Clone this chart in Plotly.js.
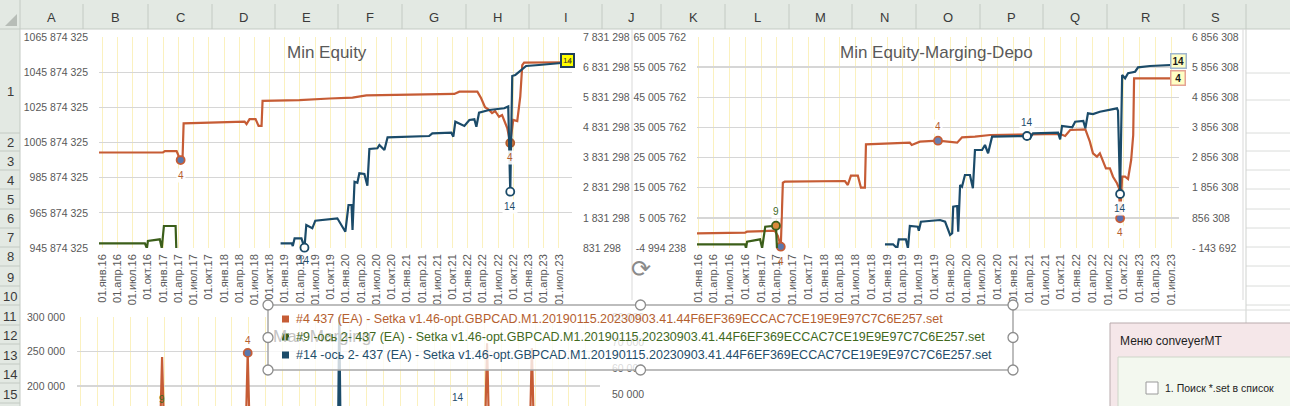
<!DOCTYPE html>
<html><head><meta charset="utf-8">
<script src="https://cdn.plot.ly/plotly-3.0.1.min.js"></script>
<style>html,body{margin:0;padding:0;background:#fff;overflow:hidden}#chart{width:1290px;height:406px}</style>
</head><body><div id="chart"></div>
<script>
// ================= DATA =================
const tickDates = ['2016-01-01','2016-04-01','2016-07-01','2016-10-01','2017-01-01','2017-04-01','2017-07-01','2017-10-01',
  '2018-01-01','2018-04-01','2018-07-01','2018-10-01','2019-01-01','2019-04-01','2019-07-01','2019-10-01',
  '2020-01-01','2020-04-01','2020-07-01','2020-10-01','2021-01-01','2021-04-01','2021-07-01','2021-10-01',
  '2022-01-01','2022-04-01','2022-07-01','2022-10-01','2023-01-01','2023-04-01','2023-07-01'];
const tickLabels = ['01.янв.16','01.апр.16','01.июл.16','01.окт.16','01.янв.17','01.апр.17','01.июл.17','01.окт.17',
  '01.янв.18','01.апр.18','01.июл.18','01.окт.18','01.янв.19','01.апр.19','01.июл.19','01.окт.19',
  '01.янв.20','01.апр.20','01.июл.20','01.окт.20','01.янв.21','01.апр.21','01.июл.21','01.окт.21',
  '01.янв.22','01.апр.22','01.июл.22','01.окт.22','01.янв.23','01.апр.23','01.июл.23'];

const c1LeftTicks = [945874325, 965874325, 985874325, 1005874325, 1025874325, 1045874325, 1065874325];
const c1LeftLabels = ['945 874 325','965 874 325','985 874 325','1005 874 325','1025 874 325','1045 874 325','1065 874 325'];
const c1RightTicks = [831298, 1831298, 2831298, 3831298, 4831298, 5831298, 6831298, 7831298];
const c1RightLabels = ['831 298','1 831 298','2 831 298','3 831 298','4 831 298','5 831 298','6 831 298','7 831 298'];
const c2LeftTicks = [-4994238, 5005762, 15005762, 25005762, 35005762, 45005762, 55005762, 65005762];
const c2LeftLabels = ['-4 994 238','5 005 762','15 005 762','25 005 762','35 005 762','45 005 762','55 005 762','65 005 762'];
const c2RightTicks = [-143692, 856308, 1856308, 2856308, 3856308, 4856308, 5856308, 6856308];
const c2RightLabels = ['- 143 692','856 308','1 856 308','2 856 308','3 856 308','4 856 308','5 856 308','6 856 308'];
const c3LeftTicks = [200000, 250000, 300000];
const c3LeftLabels = ['200 000','250 000','300 000'];
const c3RightTicks = [50000, 60000, 70000, 80000];
const c3RightLabels = ['50 000','60 000','70 000','80 000'];

const seriesNames = [
  '#4 437 (EA) - Setka v1.46-opt.GBPCAD.M1.20190115.20230903.41.44F6EF369ECCAC7CE19E9E97C7C6E257.set',
  '#9 -ось 2- 437 (EA) - Setka v1.46-opt.GBPCAD.M1.20190115.20230903.41.44F6EF369ECCAC7CE19E9E97C7C6E257.set',
  '#14 -ось 2- 437 (EA) - Setka v1.46-opt.GBPCAD.M1.20190115.20230903.41.44F6EF369ECCAC7CE19E9E97C7C6E257.set'];
const seriesShort = ['4', '9', '14'];
const chartTitles = ['Min Equity', 'Min Equity-Marging-Depo', 'Max Marging'];

// Chart 1: Min Equity
const c1Dates4 = ['2015-12-14','2016-12-31','2017-01-12','2017-03-23','2017-04-04','2017-04-16','2017-04-28','2017-05-04',
  '2018-05-04','2018-05-16','2018-06-03','2018-07-09','2018-07-27','2018-08-14','2018-08-20','2019-03-29','2019-09-25',
  '2020-02-10','2020-05-03','2021-10-12','2021-11-11','2022-02-27','2022-03-21','2022-04-14','2022-05-08','2022-05-26',
  '2022-06-13','2022-07-07','2022-07-25','2022-08-07','2022-08-25','2022-09-12','2022-09-30','2022-10-24','2022-11-11',
  '2022-11-23','2022-12-04','2023-08-18'];
const c1Eq4 = [1000200000,1000200000,1001000000,1001000000,998200000,995900000,998200000,1016800000,
  1017800000,1016400000,1019200000,1019200000,1015300000,1015300000,1029600000,1030000000,1030900000,
  1031400000,1032700000,1033500000,1034800000,1034800000,1031200000,1025900000,1024400000,1022600000,
  1023800000,1020500000,1021500000,1018700000,1014100000,1005600000,1018700000,1018100000,1031900000,
  1049900000,1051300000,1051500000];
const c1Dates9 = ['2015-12-14','2016-09-14','2016-09-26','2016-10-02','2016-12-12','2016-12-24','2017-01-06','2017-03-17','2017-03-29'];
const c1Eq9 = [987000,987000,821000,1063600,1120000,831300,1561000,1561000,-600000];
const c1Dates14 = ['2018-12-06','2019-02-11','2019-02-17','2019-02-28','2019-04-10','2019-04-28','2019-05-09','2019-06-14',
  '2019-07-02','2019-11-11','2019-12-29','2020-01-17','2020-02-04','2020-02-10','2020-02-22','2020-03-10','2020-03-22',
  '2020-04-21','2020-05-09','2020-05-21','2020-07-08','2020-07-20','2020-08-19','2020-09-07','2021-05-14','2021-06-02',
  '2021-09-24','2021-10-06','2021-10-18','2021-12-11','2022-01-10','2022-02-09','2022-02-21','2022-03-09','2022-05-08',
  '2022-08-07','2022-08-31','2022-09-12','2022-09-24','2022-10-12','2022-10-24','2022-11-05','2022-11-23','2022-12-16',
  '2023-03-03','2023-07-13','2023-08-18'];
const c1Eq14 = [987000,987000,897700,1153200,1153200,841300,1594400,1484900,
  1737000,1816700,1372100,2257900,2257900,1428500,3030900,2997700,3309500,
  3286300,2898200,4115700,4138900,4248400,4082500,4503800,4547000,4636500,
  4656400,4523700,5021400,4878700,5077800,5101000,4855500,5319900,5409500,
  5465900,5525600,2699100,6537500,6570600,6627000,6680100,6736500,6869200,
  6902400,6958800,6985300];

// Chart 2: Min Equity-Marging-Depo
const c2Dates4 = ['2015-12-26','2016-09-29','2016-10-10','2017-01-06','2017-01-23','2017-03-20','2017-04-07','2017-04-24',
  '2017-05-06','2017-05-17','2018-04-30','2018-05-17','2018-06-04','2018-07-14','2018-08-01','2018-08-24','2018-08-30',
  '2019-05-11','2019-05-22','2019-07-08','2019-10-21','2020-02-09','2020-03-08','2020-05-22','2020-08-18','2021-09-27',
  '2021-10-26','2021-11-24','2022-02-20','2022-03-18','2022-04-05','2022-04-28','2022-05-15','2022-06-02','2022-06-19',
  '2022-07-12','2022-07-30','2022-08-22','2022-09-03','2022-09-09','2022-09-21','2022-10-08','2022-10-25','2022-11-12',
  '2022-11-24','2022-11-29','2023-06-25'];
const c2Md4 = [-117500,81500,413000,645000,745000,745000,-1010000,-4563000,
  16669000,17000000,17233000,15906000,18991000,18991000,15010000,15010000,29409000,
  29939000,29176000,30271000,30603000,29939000,31731000,31930000,32494000,32826000,
  32162000,34153000,34385000,30271000,26423000,25295000,26423000,23636000,21446000,
  21446000,18660000,16470000,14811000,4859000,18660000,18660000,17897000,24200000,
  32494000,51304000,51304000];
const c2Dates9 = ['2015-12-26','2016-09-29','2016-10-05','2016-10-11','2016-12-25','2017-01-06','2017-01-24','2017-03-27','2017-04-08'];
const c2Md9 = [-20900,-20900,-153600,65400,145000,-143700,563000,596000,-900000];
const c2Dates14 = ['2018-12-18','2019-02-03','2019-02-27','2019-03-08','2019-04-18','2019-04-30','2019-05-11','2019-06-26',
  '2019-07-02','2019-07-14','2019-11-02','2019-12-01','2019-12-30','2020-01-11','2020-01-17','2020-02-09','2020-02-15',
  '2020-02-26','2020-03-08','2020-03-25','2020-04-23','2020-05-10','2020-05-22','2020-07-02','2020-07-19','2020-08-06',
  '2020-08-29','2021-03-19','2021-04-06','2021-04-23','2021-09-15','2021-09-27','2021-10-08','2021-12-06','2021-12-23',
  '2022-02-08','2022-02-20','2022-03-07','2022-04-05','2022-05-15','2022-08-22','2022-08-28','2022-09-09','2022-09-21',
  '2022-10-08','2022-10-25','2022-12-05','2022-12-22','2023-03-01','2023-05-27','2023-06-25'];
const c2Md14 = [-20900,-20900,-153600,145000,145000,-153600,586200,563000,
  430300,728900,785300,728900,287600,344000,1226500,1249700,397100,
  1946400,1890000,2278100,2278100,1836900,3107500,3107500,3273400,2998000,
  3548800,3572000,3495700,3661500,3681400,3462500,3903700,3860600,4046400,
  4069600,3827400,4325000,4301800,4378100,4490900,4411300,1647800,5595600,
  5486200,5652000,5705100,5851100,5894200,5927400,5927400];

// Chart 3: Max Marging (only the top part is visible)
const c3Dates4 = ['2015-12-14','2017-03-07','2017-03-19','2017-03-31','2018-06-14','2018-06-26','2018-07-08',
  '2022-01-01','2022-01-13','2022-01-25','2022-09-01','2022-09-13','2022-09-25','2023-08-18'];
const c3Mm4 = [120000,120000,242000,120000,120000,248000,120000,120000,262000,120000,120000,255000,120000,120000];
const c3Dates14 = ['2018-12-06','2019-10-28','2019-11-04','2019-11-12','2023-08-18'];
const c3Mm14 = [30000,30000,82000,30000,30000];

// ================= LAYOUT HELPERS =================
const W = 1290, H = 406;
const px = x => x / W;
const py = y => 1 - y / H;
const FONT = 'Liberation Sans, Arial, sans-serif';
const ORANGE = '#c65c35', GREEN = '#3b5e1a', BLUE = '#1b4b69';
const LBL_OR = '#b5602f', LBL_GR = '#41691e', LBL_BL = '#1f4e6b';
const GRID_H = '#d6d6d6', GRID_V = '#fbf1bf', AXTXT = '#595959';

function rect(x0, y0, x1, y1, fill, line, lw, layer) {
  return {type:'rect', xref:'paper', yref:'paper', x0:px(x0), x1:px(x1), y0:py(y1), y1:py(y0),
    fillcolor:fill, line:{color:line || 'rgba(0,0,0,0)', width:lw || 0}, layer:layer || 'below'};
}
function seg(x0, y0, x1, y1, color, w, layer) {
  return {type:'line', xref:'paper', yref:'paper', x0:px(x0), x1:px(x1), y0:py(y0), y1:py(y1),
    line:{color:color, width:w || 1}, layer:layer || 'below'};
}
function circ(cx, cy, r, fill, line, lw, layer) {
  return {type:'circle', xref:'paper', yref:'paper', x0:px(cx - r), x1:px(cx + r), y0:py(cy + r), y1:py(cy - r),
    fillcolor:fill, line:{color:line, width:lw}, layer:layer || 'above'};
}
function txt(x, y, text, size, color, xanchor, extra) {
  return Object.assign({xref:'paper', yref:'paper', x:px(x), y:py(y), text:text, showarrow:false,
    xanchor:xanchor || 'center', yanchor:'middle', font:{family:FONT, size:size, color:color}}, extra || {});
}

// ================= TRACES =================
const traces = [];
function line(xs, ys, xa, ya, color) {
  traces.push({type:'scatter', mode:'lines', x:xs, y:ys, xaxis:xa, yaxis:ya,
    line:{color:color, width:2.2}, hoverinfo:'skip', showlegend:false});
}
function mark(xs, ys, i, xa, ya, fill, edge, hollow) {
  traces.push({type:'scatter', mode:'markers', x:[xs[i]], y:[ys[i]], xaxis:xa, yaxis:ya, cliponaxis:false,
    marker:{size:8, color:hollow ? '#ffffff' : fill, line:{color:edge, width:1.8}}, hoverinfo:'skip', showlegend:false});
}
line(c1Dates4, c1Eq4, 'x', 'y', ORANGE);
line(c1Dates9, c1Eq9, 'x', 'y2', GREEN);
line(c1Dates14, c1Eq14, 'x', 'y2', BLUE);
line(c2Dates4, c2Md4, 'x2', 'y3', ORANGE);
line(c2Dates9, c2Md9, 'x2', 'y4', GREEN);
line(c2Dates14, c2Md14, 'x2', 'y4', BLUE);
line(c3Dates4, c3Mm4, 'x3', 'y5', ORANGE);
line(c3Dates14, c3Mm14, 'x3', 'y6', BLUE);

// point markers (min points and labelled points)
mark(c1Dates4, c1Eq4, 5, 'x', 'y', '#5a78ad', ORANGE);
mark(c1Dates4, c1Eq4, 31, 'x', 'y', '#d07a3c', '#b05a2c');
mark(c1Dates14, c1Eq14, 5, 'x', 'y2', null, BLUE, true);
mark(c1Dates14, c1Eq14, 37, 'x', 'y2', null, BLUE, true);
mark(c2Dates9, c2Md9, 7, 'x2', 'y4', '#d9893a', GREEN);
mark(c2Dates4, c2Md4, 7, 'x2', 'y3', '#5a78ad', ORANGE);
mark(c2Dates4, c2Md4, 20, 'x2', 'y3', '#6a7fb0', ORANGE);
mark(c2Dates4, c2Md4, 39, 'x2', 'y3', '#5a6fb0', ORANGE);
mark(c2Dates14, c2Md14, 27, 'x2', 'y4', null, BLUE, true);
mark(c2Dates14, c2Md14, 42, 'x2', 'y4', null, BLUE, true);
mark(c3Dates4, c3Mm4, 5, 'x3', 'y5', '#5a78ad', ORANGE);

// ================= AXES =================
const xCommon = {type:'date', tickmode:'array', tickvals:tickDates, ticktext:tickLabels, tickangle:-90,
  showgrid:true, gridcolor:GRID_V, gridwidth:1, zeroline:false, showline:false, ticks:'',
  tickfont:{family:FONT, size:11, color:AXTXT}, ticklabelstandoff:3, fixedrange:true};
function yAx(ticks, labels, opts) {
  return Object.assign({tickmode:'array', tickvals:ticks, ticktext:labels, range:[ticks[0], ticks[ticks.length - 1]],
    zeroline:false, showline:false, ticks:'', tickfont:{family:FONT, size:10.5, color:AXTXT}, fixedrange:true}, opts);
}
const C1 = {l:99, r:572, t:37, b:248};
const C2 = {l:697, r:1179, t:37, b:248};
const C3 = {l:77, r:600, t:317};

const layout = {
  width:W, height:H, margin:{l:0, r:0, t:0, b:0}, paper_bgcolor:'#ffffff', plot_bgcolor:'rgba(0,0,0,0)',
  showlegend:false, font:{family:FONT},
  xaxis:Object.assign({}, xCommon, {domain:[px(C1.l), px(C1.r)], anchor:'y', range:['2015-12-14','2023-09-17']}),
  yaxis:yAx(c1LeftTicks, c1LeftLabels, {domain:[py(C1.b), py(C1.t)], anchor:'x', gridcolor:GRID_H, gridwidth:1.3, ticklabelstandoff:10}),
  yaxis2:yAx(c1RightTicks, c1RightLabels, {domain:[py(C1.b), py(C1.t)], anchor:'x', overlaying:'y', side:'right', showgrid:false, ticklabelstandoff:10}),
  xaxis2:Object.assign({}, xCommon, {domain:[px(C2.l), px(C2.r)], anchor:'y3', range:['2015-12-26','2023-08-16']}),
  yaxis3:yAx(c2LeftTicks, c2LeftLabels, {domain:[py(C2.b), py(C2.t)], anchor:'x2', gridcolor:GRID_H, gridwidth:1.3, ticklabelstandoff:10}),
  yaxis4:yAx(c2RightTicks, c2RightLabels, {domain:[py(C2.b), py(C2.t)], anchor:'x2', overlaying:'y3', side:'right', showgrid:false, ticklabelstandoff:12}),
  xaxis3:Object.assign({}, xCommon, {domain:[px(C3.l), px(C3.r)], anchor:'y5', range:['2015-12-14','2023-09-17'], showticklabels:false}),
  yaxis5:yAx(c3LeftTicks, c3LeftLabels, {domain:[0, py(C3.t)], anchor:'x3', range:[171014, 300000], gridcolor:GRID_H, gridwidth:1.3, ticklabelstandoff:11}),
  yaxis6:yAx(c3RightTicks, c3RightLabels, {domain:[0, py(C3.t)], anchor:'x3', overlaying:'y5', side:'right', range:[45330, 80000], showgrid:false, ticklabelstandoff:11}),
  shapes:[], annotations:[]
};
const S = layout.shapes, A = layout.annotations;

// ================= SPREADSHEET FRAME =================
const HDR = '#e3e9e3', HDR_LINE = '#c3cac3', CELL_LINE = '#dadcda';
const colSeps = [20, 83, 148, 212, 275, 338, 402, 466, 529, 602, 661, 725, 789, 852, 916, 980, 1043, 1107, 1184, 1246];
const colNames = ['A','B','C','D','E','F','G','H','I','J','K','L','M','N','O','P','Q','R','S'];
const rowSeps = [73, 100, 133, 151, 170, 189, 209, 228, 247, 266, 286, 305, 325, 344, 364, 383, 403];
const rowCenters = [91, 142, 161, 180, 199, 219, 238, 256, 277, 296, 316, 335, 355, 374, 394];
S.push(rect(0, 0, W, 29, HDR));
S.push(rect(0, 29, 20, H, HDR));
S.push(seg(0, 29, W, 29, HDR_LINE, 1));
S.push(seg(20, 0, 20, H, HDR_LINE, 1));
S.push({type:'path', xref:'paper', yref:'paper', layer:'below', fillcolor:'#b7bdb7', line:{width:0},
  path:`M ${px(17)} ${py(14)} L ${px(17)} ${py(26)} L ${px(5)} ${py(26)} Z`});
colSeps.slice(1).forEach(x => S.push(seg(x, 4, x, 29, HDR_LINE, 1)));
colNames.forEach((c, i) => A.push(txt((colSeps[i] + colSeps[i + 1]) / 2, 17, c, 13, '#3a3a3a')));
rowSeps.slice(2).forEach(y => S.push(seg(0, y, 20, y, HDR_LINE, 1)));
rowCenters.forEach((y, i) => A.push(txt(10, y, String(i + 1), 13, '#3a3a3a')));
// cell grid right of the charts
rowSeps.forEach(y => S.push(seg(1246, y, W, y, CELL_LINE, 1)));
S.push(seg(1246, 29, 1246, H, '#cfd2cf', 1));
S.push(seg(1013, 310, W, 310, CELL_LINE, 1));
// chart borders
S.push(seg(632, 29, 632, 300, '#d9d9d9', 1));
S.push(seg(1243, 29, 1243, 300, '#d9d9d9', 1));

// ================= TITLES & DATA LABELS =================
A.push(txt(327, 52, chartTitles[0], 17, '#595959'));
A.push(txt(936, 52, chartTitles[1], 17, '#595959'));
A.push(txt(322, 336, chartTitles[2], 17, '#c4c4c4'));

function dlab(xs, ys, i, xa, ya, text, color, yshift, extra) {
  A.push(Object.assign({xref:xa, yref:ya, x:xs[i], y:ys[i], text:text, showarrow:false, yshift:yshift,
    font:{family:FONT, size:10, color:color}, bgcolor:'rgba(255,255,255,0.9)', borderpad:1}, extra || {}));
}
dlab(c1Dates4, c1Eq4, 5, 'x', 'y', seriesShort[0], LBL_OR, -15);
dlab(c1Dates4, c1Eq4, 31, 'x', 'y', seriesShort[0], LBL_OR, -15);
dlab(c1Dates14, c1Eq14, 5, 'x', 'y2', seriesShort[2], LBL_BL, -13, {bgcolor:'rgba(0,0,0,0)'});
dlab(c1Dates14, c1Eq14, 37, 'x', 'y2', seriesShort[2], LBL_BL, -15);
dlab(c2Dates9, c2Md9, 7, 'x2', 'y4', seriesShort[1], LBL_GR, 14);
dlab(c2Dates4, c2Md4, 7, 'x2', 'y3', seriesShort[0], LBL_OR, -15, {bgcolor:'rgba(0,0,0,0)'});
dlab(c2Dates4, c2Md4, 20, 'x2', 'y3', seriesShort[0], LBL_OR, 14);
dlab(c2Dates14, c2Md14, 27, 'x2', 'y4', seriesShort[2], LBL_BL, 13);
dlab(c2Dates14, c2Md14, 42, 'x2', 'y4', seriesShort[2], LBL_BL, -15);
dlab(c2Dates4, c2Md4, 39, 'x2', 'y3', seriesShort[0], LBL_OR, -14);
dlab(c3Dates4, c3Mm4, 5, 'x3', 'y5', seriesShort[0], LBL_OR, 12);
A.push(txt(458, 397, seriesShort[2], 10, LBL_BL));
A.push(txt(162, 399, seriesShort[1], 10, LBL_GR));

// end-of-series callouts
const n1 = c1Dates14.length - 1;
A.push({xref:'x', yref:'y2', x:c1Dates14[n1], y:c1Eq14[n1], text:seriesShort[2], showarrow:false, xshift:1, yshift:2,
  font:{family:FONT, size:8, color:'#333'}, bgcolor:'#ffff00', bordercolor:'#1f3f5c', borderwidth:2, borderpad:1});
A.push({xref:'x', yref:'y2', x:c1Dates14[n1], y:c1Eq14[n1], text:seriesShort[0], showarrow:false, xshift:3, yshift:1,
  font:{family:FONT, size:8, color:'#6b5a20'}});
const n2 = c2Dates14.length - 1, n3 = c2Dates4.length - 1;
A.push({xref:'x2', yref:'y4', x:c2Dates14[n2], y:c2Md14[n2], text:'<b>' + seriesShort[2] + '</b>', showarrow:false, xshift:8, yshift:4,
  font:{family:FONT, size:10, color:'#1a1a1a'}, bgcolor:'#ffffc4', bordercolor:'#9fb6cf', borderwidth:1.5, borderpad:1});
A.push({xref:'x2', yref:'y3', x:c2Dates4[n3], y:c2Md4[n3], text:'<b>&nbsp;' + seriesShort[0] + '&nbsp;</b>', showarrow:false, xshift:8, yshift:0,
  font:{family:FONT, size:10, color:'#1a1a1a'}, bgcolor:'#ffffc4', bordercolor:'#e5a394', borderwidth:1.5, borderpad:1});

// ================= LEGEND (selected floating legend) =================
const LG = {x0:268, x1:1013, y0:305, y1:370, rows:[319, 337, 355]};
const legendColors = [LBL_OR, LBL_GR, LBL_BL];
const swatch = [ORANGE, GREEN, BLUE];
S.push(rect(LG.x0, LG.y0, LG.x1, LG.y1, 'rgba(255,255,255,0.78)', '#a8a8a8', 1.5, 'above'));
LG.rows.forEach((y, i) => {
  S.push(rect(282, y - 3.5, 289, y + 3.5, swatch[i], null, 0, 'above'));
  A.push(txt(294, y, seriesNames[i], 12.5, legendColors[i], 'left'));
});
const midX = (LG.x0 + LG.x1) / 2, midY = (LG.y0 + LG.y1) / 2;
[[LG.x0, LG.y0], [midX, LG.y0], [LG.x1, LG.y0], [LG.x0, midY], [LG.x1, midY], [LG.x0, LG.y1], [midX, LG.y1], [LG.x1, LG.y1]]
  .forEach(p => S.push(circ(p[0], p[1], 5, '#ffffff', '#8c8c8c', 1.3)));
A.push(txt(641, 268, '⟳', 24, '#8a8a8a'));

// ================= DIALOG =================
S.push(rect(1110, 323, 1300, 420, '#f5e7e9', '#b9abad', 1, 'above'));
S.push(rect(1118, 357, 1300, 420, '#f3f8ef', '#cdd5c8', 1, 'above'));
S.push(rect(1146, 382, 1158, 394, '#ffffff', '#9a9a9a', 1, 'above'));
A.push(txt(1118, 341, 'Меню conveyerMT', 12, '#1e1e1e', 'left'));
A.push(txt(1163, 388, '1. Поиск *.set в список', 10.5, '#1e1e1e', 'left'));

Plotly.newPlot('chart', traces, layout, {staticPlot:true, displayModeBar:false});
</script>
</body></html>
